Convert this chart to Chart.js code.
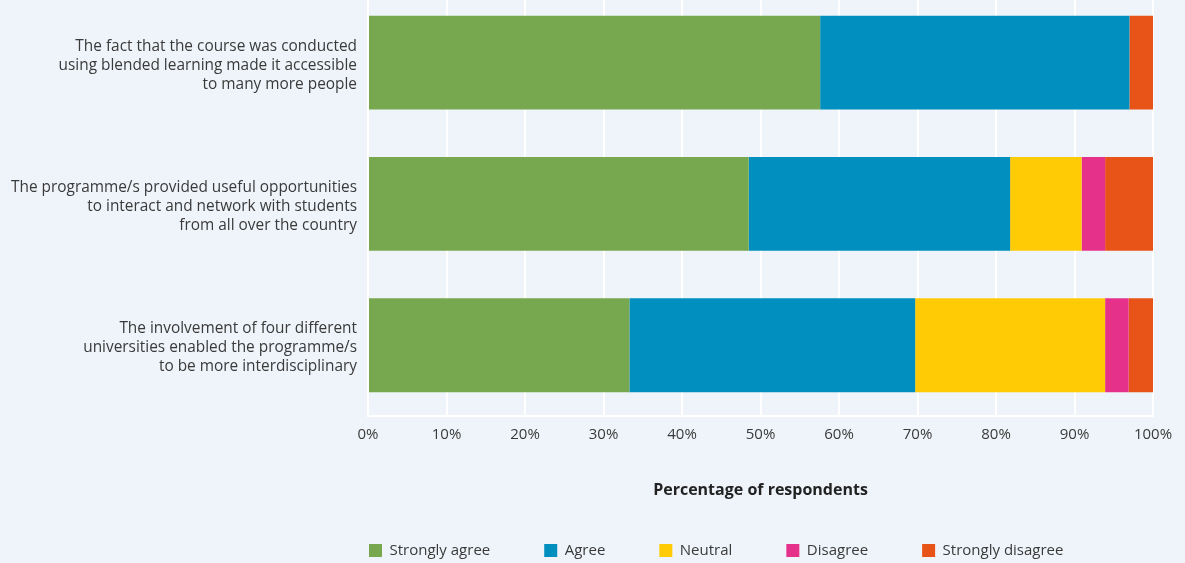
<!DOCTYPE html>
<html>
<head>
<meta charset="utf-8">
<title>Blended learning survey</title>
<script src="https://cdn.jsdelivr.net/npm/chart.js@4.4.1/dist/chart.umd.min.js"></script>
<style>
  html, body { margin: 0; padding: 0; background: #eff4fa; overflow: hidden; }
  #wrap { position: absolute; left: 0; top: -8px; width: 1185px; height: 571px; }
</style>
</head>
<body>
<div id="wrap"><canvas id="survey-chart" width="1185" height="571"></canvas></div>
<script>
// Statements, one per bar (split into lines for the axis)
const statements = [
    ['The fact that the course was conducted', 'using blended learning made it accessible', 'to many more people'],
    ['The programme/s provided useful opportunities', 'to interact and network with students', 'from all over the country'],
    ['The involvement of four different', 'universities enabled the programme/s', 'to be more interdisciplinary']
];

// Share of respondents (%) for each answer
const stronglyAgree = [57.6, 48.5, 33.3];
const agree = [39.4, 33.3, 36.4];
const neutral = [0, 9.1, 24.2];
const disagree = [0, 3.0, 3.0];
const stronglyDisagree = [3.0, 6.1, 3.1];

const answerLabels = ['Strongly agree', 'Agree', 'Neutral', 'Disagree', 'Strongly disagree'];
const answerColours = ['#77a84f', '#008fbf', '#ffcb05', '#e5318a', '#e85417'];

const xTickValues = [0, 10, 20, 30, 40, 50, 60, 70, 80, 90, 100];

const FONT = '"Open Sans", "Noto Sans", sans-serif';
const TEXT = '#3a3a3a';

// legend row sits under the plot, starting at its left edge
const legendRow = {
    id: 'legendRow',
    afterLayout(chart) {
        const lg = chart.legend;
        const pad = lg.options.labels.padding;
        lg.left = chart.chartArea.left + 1 - pad;
        lg.right = chart.width;
        lg.top = chart.height - 20 - pad;
        lg.bottom = chart.height;
    }
};

const seriesValues = [stronglyAgree, agree, neutral, disagree, stronglyDisagree];

const ctx = document.getElementById('survey-chart').getContext('2d');
const surveyChart = new Chart(ctx, {
    type: 'bar',
    data: {
        labels: statements,
        datasets: seriesValues.map((vals, i) => ({
            label: answerLabels[i],
            data: vals,
            backgroundColor: answerColours[i],
            borderWidth: 0,
            categoryPercentage: 0.665,
            barPercentage: 1.0
        }))
    },
    options: {
        indexAxis: 'y',
        responsive: false,
        animation: false,
        layout: { padding: { left: 0, right: 32, top: 0, bottom: 0 } },
        scales: {
            x: {
                stacked: true,
                min: 0,
                max: 100,
                afterBuildTicks: scale => {
                    scale.ticks = xTickValues.map(v => ({ value: v }));
                },
                ticks: {
                    callback: v => v + '%',
                    color: TEXT,
                    padding: 10,
                    font: { family: FONT, size: 15 }
                },
                grid: { color: '#ffffff', lineWidth: 2, drawTicks: false },
                border: { display: true, color: '#ffffff', width: 2 },
                title: {
                    display: true,
                    text: 'Percentage of respondents',
                    color: '#222222',
                    padding: { top: 27, bottom: 0 },
                    font: { family: FONT, size: 16, weight: 'bold' }
                }
            },
            y: {
                stacked: true,
                afterFit: scale => {
                    scale.width = 368;
                    // let the bars fill the full height, labels may overhang
                    scale.paddingTop = 0;
                    scale.paddingBottom = 0;
                },
                ticks: {
                    color: TEXT,
                    padding: 11,
                    labelOffset: 2.5,
                    font: { family: FONT, size: 15.4, lineHeight: 19 / 15.4 }
                },
                grid: { display: false, drawTicks: false },
                border: { display: false }
            }
        },
        plugins: {
            legend: {
                position: 'bottom',
                align: 'start',
                maxHeight: 63,
                labels: {
                    boxWidth: 13,
                    boxHeight: 13,
                    padding: 54,
                    color: TEXT,
                    font: { family: FONT, size: 15 }
                }
            },
            tooltip: { enabled: false }
        }
    },
    plugins: [legendRow]
});
</script>
</body>
</html>
